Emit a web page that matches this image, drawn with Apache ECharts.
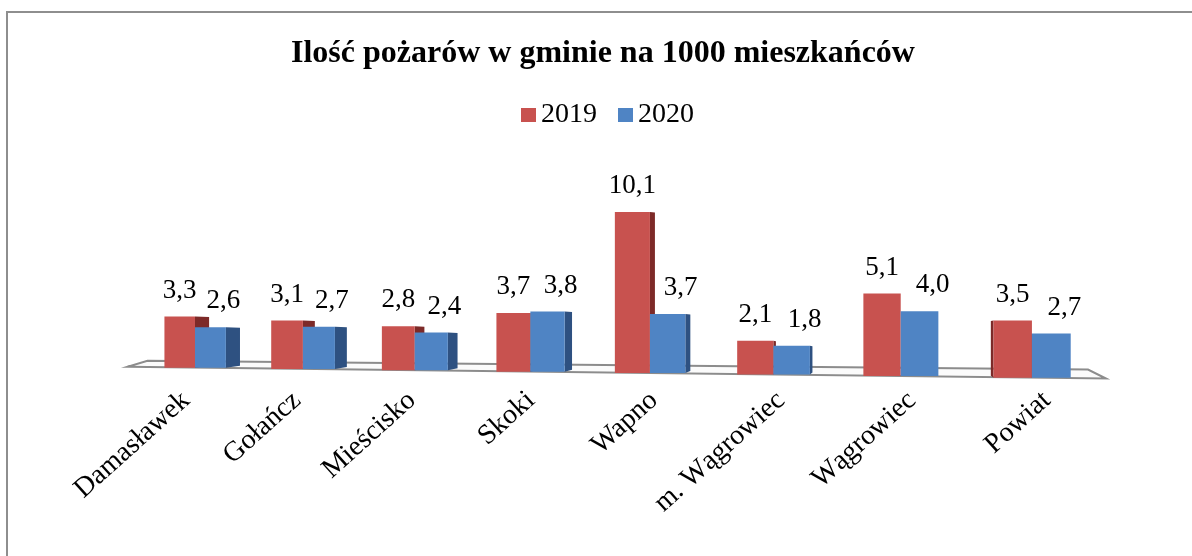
<!DOCTYPE html>
<html>
<head>
<meta charset="utf-8">
<title>Ilość pożarów</title>
<script src="https://cdn.jsdelivr.net/npm/echarts@6/dist/echarts.min.js"></script>
<style>
    html, body { margin: 0; padding: 0; background: #fff; overflow: hidden; }
    #frame {
        position: absolute; left: 6px; top: 11px; width: 1400px; height: 800px;
        border-top: 2px solid #8e8e8e; border-left: 2px solid #8e8e8e;
    }
    #chart { position: absolute; left: 0; top: 0; width: 1192px; height: 556px; }
</style>
</head>
<body>
<div id="frame"></div>
<div id="chart"></div>
<script>
; (function () {
    const gminy = ['Damasławek', 'Gołańcz', 'Mieścisko', 'Skoki', 'Wapno', 'm. Wągrowiec', 'Wągrowiec', 'Powiat'];
    const lata = ['2019', '2020'];
    const pozary2019 = [3.3, 3.1, 2.8, 3.7, 10.1, 2.1, 5.1, 3.5];
    const pozary2020 = [2.6, 2.7, 2.4, 3.8, 3.7, 1.8, 4.0, 2.7];

    const FONT = "'Liberation Serif', 'Times New Roman', serif";
    const SLOPE = 0.012;   // floor leans down to the right
    const VANISH = 900;    // x where bar sides disappear
    const K = 0.13;        // perspective squeeze of the x axis

    function fmt(v) {
        return v.toFixed(1).replace('.', ',');
    }

    // perspective: groups on the left are a bit narrower than on the right
    function warp(cs, x) {
        const s = (x - cs.x) / cs.width;
        return cs.x + cs.width * (s + K * s * (s - 1));
    }

    function barRenderer(side, front, dark, withCategory) {
        return function (params, api) {
            const cs = params.coordSys;
            const idx = api.value(0);
            const val = api.value(1);
            const base = api.coord([idx, 0]);
            const top = api.coord([idx, val]);
            const w = api.size([1, 0])[0] * 0.29;
            const u0 = side < 0 ? base[0] - w : base[0];
            const x0 = warp(cs, u0);
            const x1 = warp(cs, u0 + w);
            const c = warp(cs, base[0]);
            const s = (c - cs.x) / cs.width;
            const hs = 1 + 0.03 * (2 * s - 1);
            const drop = (c - cs.x) * SLOPE;
            const yb = base[1] + drop;
            const yt = yb - (base[1] - top[1]) * hs;
            const dx = (VANISH - c) * 0.02;
            const edge = dx >= 0 ? x1 : x0;

            const children = [
                {
                    type: 'polygon', z2: 1,
                    shape: { points: [[edge, yt], [edge + dx, yt + 0.5], [edge + dx, yb - 2], [edge, yb]] },
                    style: { fill: dark }
                },
                {
                    type: 'rect', z2: 5,
                    shape: { x: x0, y: yt, width: x1 - x0, height: yb - yt },
                    style: { fill: front }
                },
                {
                    type: 'text', z2: 8,
                    style: {
                        text: fmt(val), x: (x0 + x1) / 2 + (side > 0 ? 13 : 0), y: yt - 26,
                        align: 'center', verticalAlign: 'middle',
                        fontSize: 27, fontFamily: FONT, fill: '#000'
                    }
                }
            ];

            if (withCategory) {
                children.push({
                    type: 'text', z2: 8,
                    x: c - 9 + (c - 195) * 0.0287,
                    y: yb + 29 - (c - 195) * 0.012,
                    rotation: 42 * Math.PI / 180,
                    style: {
                        text: gminy[idx], x: 0, y: 0,
                        align: 'right', verticalAlign: 'middle',
                        fontSize: 28, fontFamily: FONT, fill: '#000'
                    }
                });
            }
            return { type: 'group', children: children };
        };
    }

    function floorRenderer(params, api) {
        const cs = params.coordSys;
        const y0 = cs.y + cs.height;
        const xl = cs.x - 15;
        const xr = cs.x + cs.width + 7;
        const yl = y0 + (xl - cs.x) * SLOPE;
        const yr = y0 + (xr - cs.x) * SLOPE;
        return {
            type: 'polygon', z2: 0,
            shape: { points: [[xl, yl], [xr, yr], [xr - 18, yr - 9], [xl + 20, yl - 6]] },
            style: { fill: '#fbfbfb', stroke: '#8c8c8c', lineWidth: 2 }
        };
    }

    const chart = echarts.init(document.getElementById('chart'));
    const option = {
        animation: false,
        title: {
            text: 'Ilość pożarów w gminie na 1000 mieszkańców',
            left: 286,
            top: 33,
            textStyle: { fontFamily: FONT, fontSize: 32, fontWeight: 'bold', color: '#000' }
        },
        legend: {
            data: lata,
            left: 516,
            top: 96,
            icon: 'rect',
            itemWidth: 15,
            itemHeight: 14,
            itemGap: 21,
            textStyle: { fontFamily: FONT, fontSize: 28, color: '#000' }
        },
        grid: { left: 142.5, right: 93, top: 176, bottom: 189 },
        xAxis: { type: 'category', data: gminy, show: false },
        yAxis: { type: 'value', min: 0, max: 12, show: false },
        series: [
            {
                type: 'custom',
                silent: true,
                renderItem: floorRenderer,
                data: [[0]]
            },
            {
                name: lata[0],
                type: 'custom',
                itemStyle: { color: '#C8524F' },
                renderItem: barRenderer(-1, '#C8524F', '#7D2A28', true),
                data: pozary2019.map((v, i) => [i, v])
            },
            {
                name: lata[1],
                type: 'custom',
                itemStyle: { color: '#4F84C4' },
                renderItem: barRenderer(1, '#4F84C4', '#2E5181', false),
                data: pozary2020.map((v, i) => [i, v])
            }
        ]
    };
    chart.setOption(option);
})()
</script>
</body>
</html>
